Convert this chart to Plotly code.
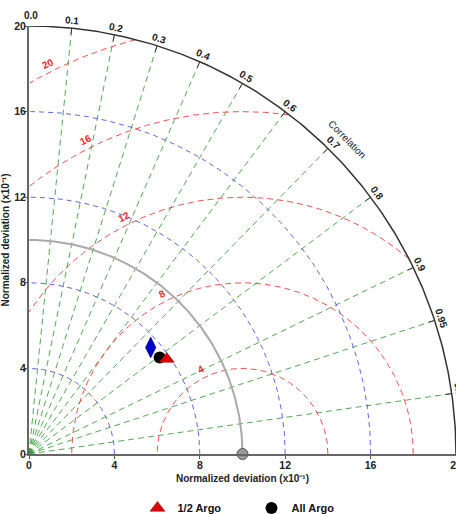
import numpy as np
import plotly.graph_objects as go

# ---- data (normalized deviation in x10^-1 units, correlation) ----
names = ["1/2 Argo", "All Argo", "Other"]
std_dev = [7.83, 7.60, 7.57]
correlation = [0.824, 0.805, 0.753]
ref_std = 10.0

# ---- grid / tick definitions ----
std_ticks = [0, 4, 8, 12, 16, 20]
std_circles = [4, 8, 12, 16]
rms_levels = [4, 8, 12, 16, 20]
corr_ticks = [0.0, 0.1, 0.2, 0.3, 0.4, 0.5, 0.6, 0.7, 0.8, 0.9, 0.95, 0.99]
corr_rays = [0.1, 0.2, 0.3, 0.4, 0.5, 0.6, 0.7, 0.8, 0.9, 0.95, 0.99]
rmax = 20.0
AX_RANGE = [0, 20]

RED = "rgba(238,50,50,0.85)"
BLUE = "rgba(60,60,235,0.8)"
GREEN = "rgba(40,150,40,0.8)"
DARK = "#333333"
FONT = "Liberation Sans"


def to_paper(x, y):
    return ((x - AX_RANGE[0]) / (AX_RANGE[1] - AX_RANGE[0]),
            (y - AX_RANGE[0]) / (AX_RANGE[1] - AX_RANGE[0]))


fig = go.Figure()
t = np.linspace(0, np.pi / 2, 200)

# correlation rays
for c in corr_rays:
    th = np.arccos(c)
    fig.add_trace(go.Scatter(x=[0, rmax * np.cos(th)], y=[0, rmax * np.sin(th)], mode="lines",
                             line=dict(color=GREEN, width=1, dash="6px,4px"),
                             hoverinfo="skip", showlegend=False))

# std circles
for r in std_circles:
    fig.add_trace(go.Scatter(x=r * np.cos(t), y=r * np.sin(t), mode="lines",
                             line=dict(color=BLUE, width=1, dash="5px,4px"),
                             hoverinfo="skip", showlegend=False))

# RMS circles about reference point
phi = np.linspace(0, np.pi, 800)
for r in rms_levels:
    xs = ref_std + r * np.cos(phi)
    ys = r * np.sin(phi)
    keep = (xs >= 0) & (xs ** 2 + ys ** 2 <= rmax ** 2)
    fig.add_trace(go.Scatter(x=xs[keep], y=ys[keep], mode="lines",
                             line=dict(color=RED, width=1, dash="6px,4px"),
                             hoverinfo="skip", showlegend=False))

# reference std arc
fig.add_trace(go.Scatter(x=ref_std * np.cos(t), y=ref_std * np.sin(t), mode="lines",
                         line=dict(color="#aaaaaa", width=2), hoverinfo="skip", showlegend=False))

# outer arc
fig.add_trace(go.Scatter(x=rmax * np.cos(t), y=rmax * np.sin(t), mode="lines",
                         line=dict(color=DARK, width=1.5), hoverinfo="skip", showlegend=False))

# correlation tick marks on outer arc
for c in corr_ticks[1:]:
    th = np.arccos(c)
    fig.add_trace(go.Scatter(x=[19.7 * np.cos(th), rmax * np.cos(th)],
                             y=[19.7 * np.sin(th), rmax * np.sin(th)], mode="lines",
                             line=dict(color=DARK, width=1), hoverinfo="skip", showlegend=False))

# reference point
fig.add_trace(go.Scatter(x=[ref_std], y=[0], mode="markers", cliponaxis=False,
                         marker=dict(symbol="circle", size=11, color="#999999",
                                     line=dict(color="#555555", width=1)),
                         hoverinfo="skip", showlegend=False))


# data points
def pt(i):
    th = np.arccos(correlation[i])
    return [std_dev[i] * np.cos(th)], [std_dev[i] * np.sin(th)]


x2, y2 = pt(2)
fig.add_trace(go.Scatter(x=x2, y=y2, mode="markers", name=names[2], showlegend=False,
                         marker=dict(symbol="diamond-tall", size=15, color="#0000cc",
                                     line=dict(color="#000066", width=0.5))))
x1, y1 = pt(1)
fig.add_trace(go.Scatter(x=x1, y=y1, mode="markers", name=names[1], legendrank=2,
                         marker=dict(symbol="circle", size=12, color="black")))
x0, y0 = pt(0)
fig.add_trace(go.Scatter(x=x0, y=y0, mode="markers", name=names[0], legendrank=1,
                         marker=dict(symbol="triangle-up", size=13, color="#e00000",
                                     line=dict(color="#800000", width=0.5))))

annotations = []
# correlation labels
for c in corr_ticks:
    th = np.arccos(c)
    rl = 20.5 if c == 0.0 else 20.35
    px, py = to_paper(rl * np.cos(th), rl * np.sin(th))
    annotations.append(dict(x=px, y=py, xref="paper", yref="paper",
                            text=f"{c:.1f}" if c * 10 == round(c * 10) else f"{c:.2f}",
                            showarrow=False, textangle=90 - np.degrees(th),
                            xanchor="center", yanchor="middle", xshift=2 if c == 0.0 else 0,
                            font=dict(family=FONT, size=10, color="#222222", weight="bold")))
# Correlation title
thc = np.radians(44.6)
px, py = to_paper(20.95 * np.cos(thc), 20.95 * np.sin(thc))
annotations.append(dict(x=px, y=py, xref="paper", yref="paper",
                        text="Correlation", showarrow=False, textangle=90 - np.degrees(thc),
                        xanchor="center", yanchor="middle",
                        font=dict(family=FONT, size=10, color="#222222")))
# RMS labels
ang = np.radians(116.5)
for r in rms_levels:
    rl = r + 0.4
    px, py = to_paper(ref_std + rl * np.cos(ang), rl * np.sin(ang))
    annotations.append(dict(x=px, y=py, xref="paper", yref="paper",
                            text=f"<b>{r}</b>", showarrow=False, textangle=-(np.degrees(ang) - 90),
                            xanchor="center", yanchor="middle",
                            font=dict(family=FONT, size=10, color="rgb(235,40,40)")))

axis_common = dict(range=AX_RANGE, tickvals=std_ticks, ticktext=[str(v) for v in std_ticks],
                   showgrid=False, zeroline=False, showline=True, linecolor="#666666", linewidth=2,
                   ticks="outside", ticklen=3, tickwidth=1, tickcolor="#555555", automargin=False,
                   ticklabeloverflow="allow",
                   tickfont=dict(family=FONT, size=10.5, color="#222222", weight="bold"))

fig.update_layout(
    width=456, height=514,
    margin=dict(l=29, r=0, t=26, b=60, autoexpand=False),
    paper_bgcolor="white", plot_bgcolor="white",
    xaxis=dict(**axis_common, ticklabelstandoff=-3,
               title=dict(text="Normalized deviation (x10⁻¹)", standoff=5,
                          font=dict(family=FONT, size=10, color="#222222", weight="bold"))),
    yaxis=dict(**axis_common, ticklabelstandoff=-4,
               title=dict(text="Normalized deviation (x10⁻¹)", standoff=3,
                          font=dict(family=FONT, size=10, color="#222222", weight="bold"))),
    legend=dict(orientation="h", xref="container", yref="container",
                x=0.5515, xanchor="center", y=0.0117, yanchor="middle",
                font=dict(family=FONT, size=11, color="#111111", weight="bold"),
                entrywidth=69, bgcolor="rgba(0,0,0,0)"),
    annotations=annotations,
    showlegend=True,
)

fig.write_html("out.html")
